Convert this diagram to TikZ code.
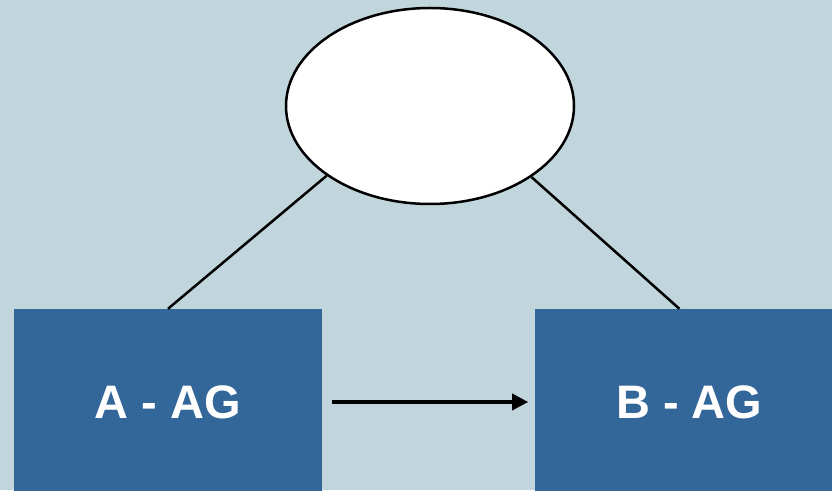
\documentclass[tikz,border=0pt]{standalone}
\usepackage{fontspec}
\setmainfont{Liberation Sans}
\usepackage{xcolor}
\usepackage{tikz}
\usetikzlibrary{arrows.meta, positioning, calc, shapes.geometric}
\definecolor{paper}{RGB}{193,213,220}
\definecolor{agblue}{RGB}{51,102,153}
\tikzset{
x=1pt, y=1pt,
node distance=213pt,
>={Triangle[length=16pt,width=16pt]},
black,
text=black,
agbox/.style={%
    rectangle,
    minimum width=308pt,
    minimum height=186pt,
    inner sep=0pt,
    fill=agblue,
    % Font
    text=white,
    font=\fontsize{47}{56}\selectfont\bfseries
},
blob/.style={%
    ellipse,inner sep=0pt,minimum width=288pt,minimum height=196pt,
    fill=white,draw=black,line width=2.5pt
},
link/.style={line width=2.5pt},
flow/.style={line width=3.5pt,->,shorten <=10pt,shorten >=7pt},
}

\begin{document}
\begin{tikzpicture}
	\clip (0,0) rectangle (832,490);
	\fill[paper] (0,0) rectangle (832,490);

	\node[agbox] (aag) at (168,88) {A - AG};
	\node[agbox, right=of aag] (bag) {B - AG};
	\node[blob] (lat) at (430,384) {};

	\draw[link] (lat.214) -- (aag.north);
	\draw[link] (lat.325) -- ([xshift=-10pt]bag.north);
	\draw[flow] (aag) -- (bag);

\end{tikzpicture}
\end{document}
